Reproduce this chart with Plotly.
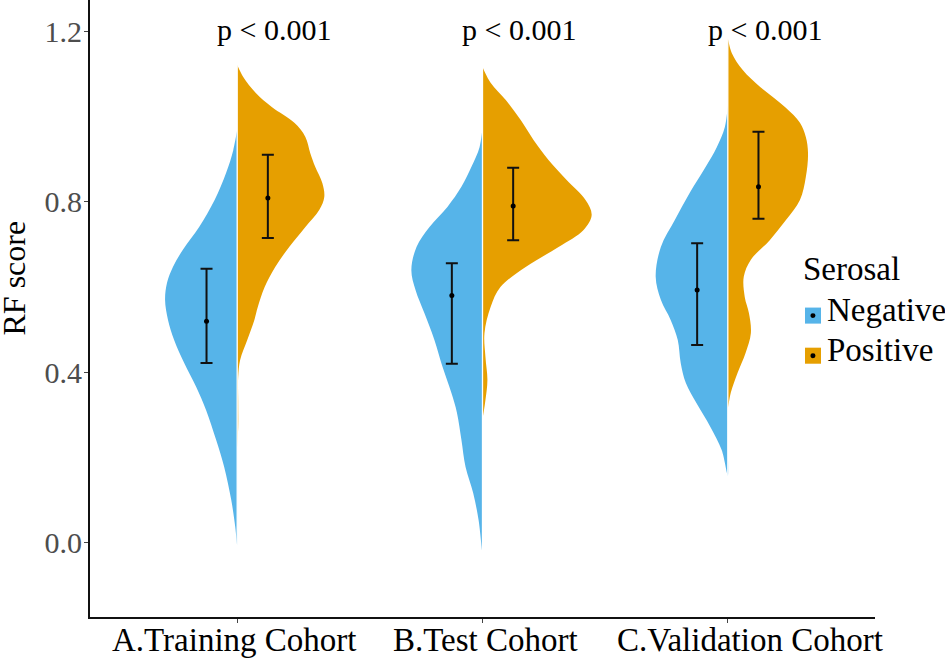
import plotly.graph_objects as go

cohorts = ["A.Training Cohort", "B.Test Cohort", "C.Validation Cohort"]
group_names = ["Negative", "Positive"]
p_labels = ["p < 0.001", "p < 0.001", "p < 0.001"]

# violin outlines: RF score and half width (density)
a_neg_score = [-0.005, 0.038, 0.10, 0.178, 0.242, 0.312, 0.366, 0.422, 0.476, 0.523, 0.570, 0.610, 0.647, 0.687, 0.741, 0.804, 0.868, 0.921, 0.968]
a_neg_dens = [0, 0.008, 0.024, 0.053, 0.086, 0.127, 0.167, 0.216, 0.257, 0.282, 0.294, 0.286, 0.262, 0.222, 0.155, 0.092, 0.045, 0.016, 0]
a_pos_score = [0.225, 0.272, 0.335, 0.389, 0.429, 0.476, 0.523, 0.553, 0.600, 0.647, 0.694, 0.741, 0.781, 0.811, 0.844, 0.882, 0.914, 0.952, 0.985, 1.022, 1.055, 1.093, 1.121]
a_pos_dens = [0, 0.004, 0.004, 0.004, 0.012, 0.041, 0.07, 0.084, 0.112, 0.155, 0.212, 0.278, 0.335, 0.355, 0.347, 0.318, 0.298, 0.278, 0.233, 0.141, 0.076, 0.024, 0]

b_neg_score = [-0.021, 0.054, 0.117, 0.178, 0.242, 0.305, 0.352, 0.413, 0.476, 0.539, 0.593, 0.640, 0.694, 0.741, 0.788, 0.835, 0.882, 0.928, 0.973]
b_neg_dens = [0, 0.016, 0.038, 0.069, 0.086, 0.104, 0.127, 0.163, 0.196, 0.237, 0.273, 0.29, 0.269, 0.216, 0.143, 0.086, 0.045, 0.012, 0]
b_pos_score = [0.293, 0.335, 0.382, 0.436, 0.492, 0.553, 0.600, 0.647, 0.694, 0.734, 0.769, 0.804, 0.851, 0.898, 0.945, 0.992, 1.039, 1.079, 1.116]
b_pos_dens = [0, 0.012, 0.02, 0.012, 0.008, 0.033, 0.073, 0.176, 0.31, 0.412, 0.445, 0.42, 0.343, 0.269, 0.208, 0.155, 0.094, 0.033, 0]

c_neg_score = [0.159, 0.218, 0.272, 0.328, 0.375, 0.422, 0.476, 0.523, 0.570, 0.624, 0.694, 0.757, 0.821, 0.882, 0.928, 0.975, 1.027]
c_neg_dens = [0, 0.025, 0.071, 0.128, 0.171, 0.192, 0.204, 0.233, 0.273, 0.294, 0.273, 0.216, 0.155, 0.09, 0.045, 0.012, 0]
c_pos_score = [0.317, 0.352, 0.399, 0.445, 0.492, 0.539, 0.577, 0.624, 0.664, 0.71, 0.757, 0.804, 0.858, 0.914, 0.952, 0.985, 1.022, 1.069, 1.109, 1.149, 1.184]
c_pos_dens = [0, 0.012, 0.04, 0.072, 0.094, 0.086, 0.069, 0.065, 0.094, 0.171, 0.237, 0.294, 0.318, 0.327, 0.318, 0.294, 0.233, 0.132, 0.061, 0.016, 0]

# mean and lower/upper ends of the error bars, one per cohort
neg_mean = [0.52, 0.58, 0.593]
neg_low = [0.422, 0.42, 0.464]
neg_high = [0.643, 0.656, 0.703]
pos_mean = [0.809, 0.79, 0.835]
pos_low = [0.715, 0.71, 0.76]
pos_high = [0.91, 0.88, 0.964]

NEG_COLOR = "#56B4E9"
POS_COLOR = "#E69F00"
SERIF = "Liberation Serif"
DODGE = 0.125
# the cohort labels do not sit centred under their ticks in the original
label_shift = [-0.014, 0.012, 0.09]


def half_violin(center, score, dens, side, color):
    # closed outline: curved side first, then back down the centre line
    xs = [center + side * d for d in dens] + [center] * len(score)
    ys = list(score) + list(score)[::-1]
    return go.Scatter(
        x=xs, y=ys, mode="lines", fill="toself", fillcolor=color,
        line=dict(color=color, width=0, shape="spline", smoothing=1.0),
        hoverinfo="skip", showlegend=False,
    )


def error_bar(x, mean, low, high):
    return go.Scatter(
        x=[x], y=[mean], mode="markers",
        marker=dict(color="black", size=5),
        error_y=dict(
            type="data", symmetric=False,
            array=[high - mean], arrayminus=[mean - low],
            color="#111111", thickness=2, width=6,
        ),
        showlegend=False,
    )


fig = go.Figure()

violins = [
    (a_neg_score, a_neg_dens, a_pos_score, a_pos_dens),
    (b_neg_score, b_neg_dens, b_pos_score, b_pos_dens),
    (c_neg_score, c_neg_dens, c_pos_score, c_pos_dens),
]

for i, (ns, nd, ps, pd) in enumerate(violins):
    center = i + 1
    fig.add_trace(half_violin(center, ns, nd, -1, NEG_COLOR))
    fig.add_trace(half_violin(center, ps, pd, 1, POS_COLOR))
    # thin white gap between the two halves
    top = max(ns + ps)
    bottom = min(ns + ps)
    fig.add_trace(go.Scatter(
        x=[center, center], y=[bottom, top], mode="lines",
        line=dict(color="white", width=1.3), hoverinfo="skip", showlegend=False,
    ))

for i in range(3):
    fig.add_trace(error_bar(i + 1 - DODGE, neg_mean[i], neg_low[i], neg_high[i]))
    fig.add_trace(error_bar(i + 1 + DODGE, pos_mean[i], pos_low[i], pos_high[i]))

for i, label in enumerate(p_labels):
    fig.add_annotation(
        x=i + 1.15, y=1.205, text=label, showarrow=False, xanchor="center", yanchor="middle",
        font=dict(family=SERIF, size=30, color="black"),
    )

for i, label in enumerate(cohorts):
    fig.add_annotation(
        x=i + 1 + label_shift[i], yref="paper", y=-0.037, text=label, showarrow=False,
        xanchor="center", yanchor="middle", font=dict(family=SERIF, size=33, color="black"),
    )

fig.add_annotation(
    xref="paper", yref="paper", x=-0.0965, y=0.549, text="RF score", textangle=-90, showarrow=False,
    xanchor="center", yanchor="middle", font=dict(family=SERIF, size=32, color="black"),
)

# legend, drawn by hand because the keys carry a dot
fig.add_annotation(
    xref="paper", yref="paper", x=0.9052, y=0.564, text="Serosal", showarrow=False,
    xanchor="left", yanchor="middle", font=dict(family=SERIF, size=33, color="black"),
)
for name, color, key_y, text_y in [
    (group_names[0], NEG_COLOR, 0.4885, 0.4975),
    (group_names[1], POS_COLOR, 0.4235, 0.4335),
]:
    fig.add_shape(
        type="rect", xref="paper", yref="paper", line_width=0, fillcolor=color,
        x0=0.9108, x1=0.9312, y0=key_y - 0.013, y1=key_y + 0.013,
    )
    fig.add_shape(
        type="circle", xref="paper", yref="paper", line_width=0, fillcolor="black",
        x0=0.9178, x1=0.9242, y0=key_y - 0.004, y1=key_y + 0.004,
    )
    fig.add_annotation(
        xref="paper", yref="paper", x=0.9365, y=text_y, text=name, showarrow=False,
        xanchor="left", yanchor="middle", font=dict(family=SERIF, size=33, color="black"),
    )

fig.update_layout(
    width=945,
    height=659,
    margin=dict(l=90, r=70, t=0, b=42),
    plot_bgcolor="white",
    paper_bgcolor="white",
    showlegend=False,
    xaxis=dict(
        range=[0.4, 3.6], tickvals=[1, 2, 3], showticklabels=False, showgrid=False, zeroline=False,
        showline=True, linecolor="#111111", linewidth=2, ticks="outside", ticklen=4, tickwidth=1,
        tickcolor="#444444", automargin=False,
    ),
    yaxis=dict(
        range=[-0.1735, 1.273], tickvals=[0, 0.4, 0.8, 1.2], tickformat=".1f", showgrid=False,
        zeroline=False, showline=True, linecolor="#111111", linewidth=2, ticks="outside", ticklen=4,
        tickwidth=1, tickcolor="#444444", tickfont=dict(family=SERIF, size=30, color="#4d4d4d"),
        ticklabelstandoff=-4, automargin=False,
    ),
)

# the page's default body margin would push the chart 8px off
fig.write_html(
    "out.html",
    config={"displayModeBar": False},
    post_script="document.body.style.margin='0';",
)
